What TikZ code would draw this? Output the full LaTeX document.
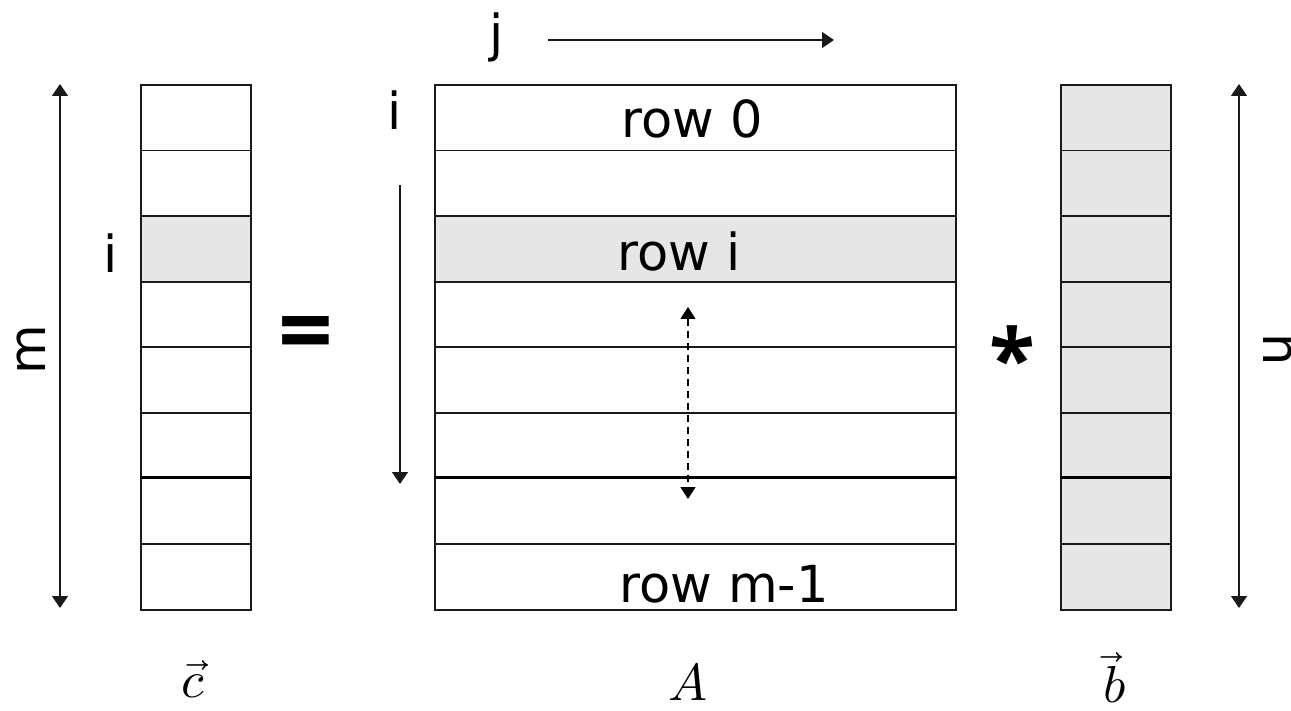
\documentclass[tikz,border=0pt]{standalone}
\usepackage{fontspec}
\usepackage{unicode-math}
\setmainfont{DejaVu Sans}
\newfontfamily\opfont{Open Sans}
\setmathfont{Latin Modern Math}
\usetikzlibrary{arrows.meta}
\definecolor{cellgray}{HTML}{E6E6E6}
\definecolor{linegray}{HTML}{1A1A1A}
\begin{document}
\begin{tikzpicture}[x=1pt,y=-1pt,
  cell/.style={draw=linegray, line width=1.7pt, rectangle, inner sep=0pt,
               minimum height=65.625pt, anchor=north west},
  ccell/.style={cell, minimum width=110pt},
  acell/.style={cell, minimum width=521pt},
  sepline/.style={draw=black, line width=3.2pt},
  lab/.style={inner sep=0pt, font=\fontsize{51}{60}\selectfont},
  vlab/.style={inner sep=0pt, font=\fontsize{52}{60}\selectfont},
  dim/.style={draw=linegray, line width=1.5pt, {Triangle[length=12pt,width=16pt]}-{Triangle[length=12pt,width=16pt]}},
  dirarrow/.style={draw=linegray, line width=1.5pt, -{Triangle[length=12pt,width=16pt]}},
  dasharrow/.style={draw=black, line width=1.5pt, dash pattern=on 7pt off 5pt,
     {Triangle[length=12pt,width=15pt]}-{Triangle[length=12pt,width=15pt]}}
]
\clip (0,0) rectangle (1291,711);
\useasboundingbox (0,0) rectangle (1291,711);

% vector c
\foreach \k/\f in {0/white,1/white,2/cellgray,3/white,4/white,5/white,6/white,7/white}
  \node[ccell, fill=\f] (c\k) at (140,{84+\k*65.625}) {};
% matrix A
\foreach \k/\f in {0/white,1/white,2/cellgray,3/white,4/white,5/white,6/white,7/white}
  \node[acell, fill=\f] (a\k) at (434,{84+\k*65.625}) {};
% vector b
\foreach \k in {0,...,7}
  \node[ccell, fill=cellgray] (b\k) at (1060,{84+\k*65.625}) {};

% thick separator lines
\draw[sepline] (c6.north west) -- (c6.north east);
\draw[sepline] (a6.north west) -- (a6.north east);
\draw[sepline] (b6.north west) -- (b6.north east);

% row labels
\node[lab] (r0) at (692,119) {row 0};
\node[lab] (ri) at (679,251) {row i};
\node[lab] (rm) at (724,584) {row m-1};

% index labels
\node[lab] (ic) at (111,253) {i};
\node[lab] (ia) at (395,110) {i};
\node[lab] (jl) at (497,37) {j};

% dimension arrows
\coordinate (mt) at (60,84);
\coordinate (mb) at (60,608);
\draw[dim] (mt) -- (mb);
\node[lab, rotate=90] (ml) at (31,350) {m};

\coordinate (nt) at (1239,84);
\coordinate (nb) at (1239,608);
\draw[dim] (nt) -- (nb);
\node[lab, rotate=-90] (nl) at (1278,350) {n};

% direction arrows
\coordinate (js) at (548,40);
\coordinate (je) at (834,40);
\draw[dirarrow] (js) -- (je);
\coordinate (is) at (400,185);
\coordinate (ie) at (400,484);
\draw[dirarrow] (is) -- (ie);

% dashed arrow
\coordinate (dt) at (688,307);
\coordinate (db) at (688,499);
\draw[dasharrow] (dt) -- (db);

% operators
\node[inner sep=0pt, font=\opfont\fontsize{96}{96}\selectfont\bfseries] (eq) at (306,341) {=};
\node[inner sep=0pt, font=\opfont\fontsize{84}{84}\selectfont\bfseries] (ast) at (1012,358) {*};

% vector names
\node[vlab] (vc) at (193,679) {$\vec{c}$};
\node[vlab] (vA) at (688,682) {$A$};
\node[vlab] (vb) at (1115,678) {$\vec{b}$};
\end{tikzpicture}
\end{document}
